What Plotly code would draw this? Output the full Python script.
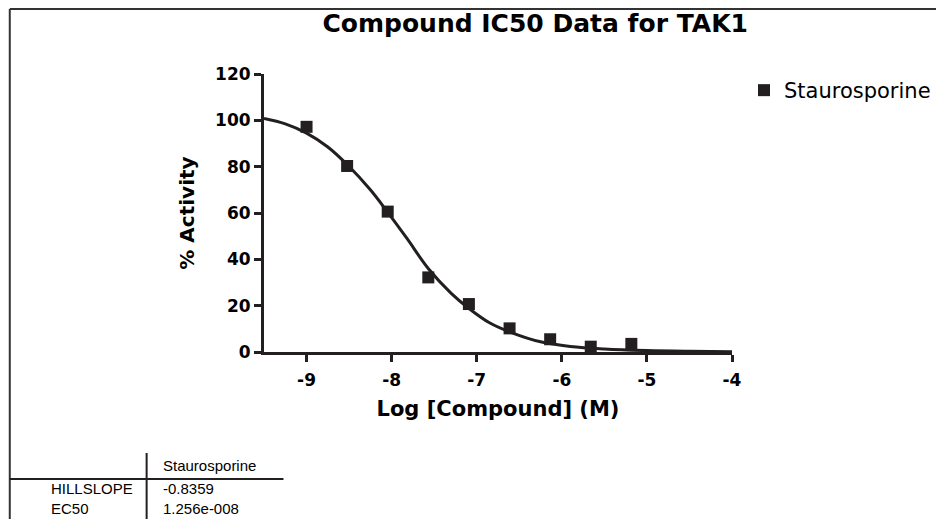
import plotly.graph_objects as go

# ---- data ----
log_conc = [-9.0, -8.523, -8.046, -7.569, -7.092, -6.614, -6.137, -5.660, -5.183]
activity = [97.2, 80.3, 60.6, 32.2, 20.7, 10.2, 5.5, 2.3, 3.5]

curve_x = [-9.5, -9.25, -9.0, -8.75, -8.52, -8.25, -8.05, -7.82, -7.565, -7.3,
           -7.095, -6.85, -6.6, -6.25, -5.9, -5.5, -5.0, -4.5, -4.0]
curve_y = [100.8, 98.5, 94.5, 88.5, 80.8, 70.0, 60.5, 49.0, 35.8, 25.3,
           18.9, 12.6, 8.5, 4.4, 2.4, 1.3, 0.6, 0.3, 0.15]

series_name = "Staurosporine"
table_rows = ["HILLSLOPE", "EC50"]
table_vals = ["-0.8359", "1.256e-008"]

x_ticks = [-9, -8, -7, -6, -5, -4]
x_tick_labels = ["-9", "-8", "-7", "-6", "-5", "-4"]
y_ticks = [0, 20, 40, 60, 80, 100, 120]

# ---- layout geometry (page pixels; the page body has an 8px margin) ----
OFF = 8
W, H = 944 - OFF, 519 - OFF
L, R, T, B = 263.5 - OFF, 212, 74 - OFF, 167
PW, PH = W - L - R, H - T - B


def px(x):
    return (x - OFF - L) / PW


def py(y):
    return (H - B - (y - OFF)) / PH


INK = "#231F20"
FONT = "Arial, Liberation Sans, sans-serif"
WIDE = "DejaVu Sans, Verdana, sans-serif"

fig = go.Figure()
fig.add_trace(go.Scatter(
    x=curve_x, y=curve_y, mode="lines", line=dict(color=INK, width=3, shape="spline"),
    showlegend=False, hoverinfo="skip"))
fig.add_trace(go.Scatter(
    x=log_conc, y=activity, mode="markers", name=series_name,
    marker=dict(symbol="square", size=12, color=INK)))

frame = dict(color="#333", width=2)
RIGHT = 938
shapes = [
    dict(type="line", xref="paper", yref="paper", x0=px(9), x1=px(9), y0=py(9), y1=py(530), line=frame),
    dict(type="line", xref="paper", yref="paper", x0=px(9), x1=px(RIGHT), y0=py(9), y1=py(9), line=frame),
    dict(type="line", xref="paper", yref="paper", x0=px(RIGHT), x1=px(RIGHT), y0=py(9), y1=py(530), line=frame),
    # table lines
    dict(type="line", xref="paper", yref="paper", x0=px(9), x1=px(283), y0=py(479), y1=py(479),
         line=dict(color=INK, width=2)),
    dict(type="line", xref="paper", yref="paper", x0=px(146), x1=px(146), y0=py(453), y1=py(530),
         line=dict(color=INK, width=2)),
]

tfont = dict(family=FONT, size=15, color="#000")
annotations = [
    dict(text=series_name, xref="paper", yref="paper", x=px(160), y=py(465),
         xanchor="left", yanchor="middle", showarrow=False, font=tfont),
]
for i, (nm, v) in enumerate(zip(table_rows, table_vals)):
    yy = py(488 + i * 20)
    annotations.append(dict(text=nm, xref="paper", yref="paper", x=px(48), y=yy, xanchor="left",
                            yanchor="middle", showarrow=False, font=tfont))
    annotations.append(dict(text=v, xref="paper", yref="paper", x=px(160), y=yy, xanchor="left",
                            yanchor="middle", showarrow=False, font=tfont))

fig.update_layout(
    width=W, height=H,
    margin=dict(l=L, r=R, t=T, b=B, pad=0, autoexpand=False),
    paper_bgcolor="white", plot_bgcolor="white",
    font=dict(family=WIDE, color="#000"),
    title=dict(text="Compound IC50 Data for TAK1", xref="paper", x=px(535), xanchor="center",
               yref="container", y=1 - (23 - OFF) / H, yanchor="middle",
               font=dict(family=WIDE, size=25, weight="bold", color="#000")),
    xaxis=dict(range=[-9.5, -4], tickvals=x_ticks, ticktext=x_tick_labels, ticks="outside",
               ticklen=7, tickwidth=3, ticklabelstandoff=4,
               tickcolor=INK, showline=True, linewidth=3, linecolor=INK, showgrid=False,
               zeroline=False, tickfont=dict(family=WIDE, size=17, weight="bold", color="#000"),
               title=dict(text="Log [Compound] (M)", standoff=12,
                          font=dict(family=WIDE, size=21, weight="bold", color="#000"))),
    yaxis=dict(range=[0, 120], tickvals=y_ticks, ticks="outside", ticklen=7, tickwidth=3,
               tickcolor=INK, showline=True, linewidth=3, linecolor=INK, showgrid=False,
               zeroline=False, tickfont=dict(family=WIDE, size=17, weight="bold", color="#000"),
               title=dict(text="% Activity", standoff=16,
                          font=dict(family=WIDE, size=20, weight="bold", color="#000"))),
    legend=dict(x=px(744), y=py(70), xanchor="left", yanchor="top", bgcolor="rgba(0,0,0,0)",
                font=dict(family=WIDE, size=21, color="#000"), itemwidth=30),
    shapes=shapes,
    annotations=annotations,
)

fig.write_html("out.html")
